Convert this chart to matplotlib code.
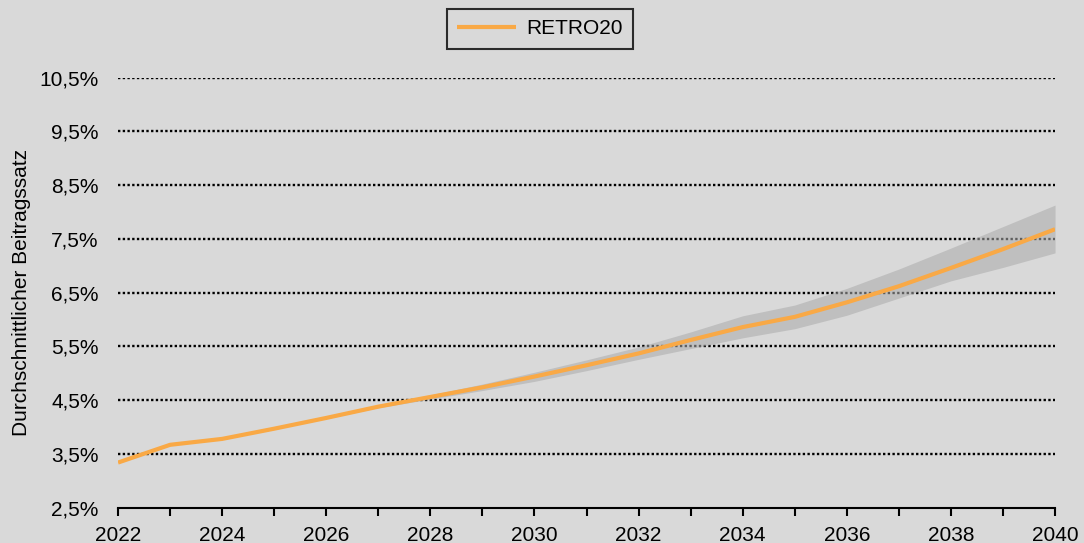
import numpy as np
import matplotlib.pyplot as plt
from matplotlib.ticker import FuncFormatter, MultipleLocator

# data
years = np.arange(2022, 2041)
retro20 = [3.34, 3.67, 3.78, 3.97, 4.17, 4.38, 4.56, 4.74, 4.94, 5.15,
           5.37, 5.62, 5.86, 6.05, 6.32, 6.62, 6.96, 7.31, 7.68]
band_hi = [3.34, 3.67, 3.78, 3.97, 4.18, 4.40, 4.60, 4.80, 5.02, 5.25,
           5.49, 5.77, 6.07, 6.27, 6.58, 6.94, 7.33, 7.73, 8.13]
band_lo = [3.34, 3.67, 3.78, 3.97, 4.16, 4.36, 4.52, 4.68, 4.85, 5.05,
           5.26, 5.46, 5.66, 5.83, 6.08, 6.40, 6.72, 6.97, 7.24]
yticks = [2.5, 3.5, 4.5, 5.5, 6.5, 7.5, 8.5, 9.5, 10.5]

plt.rcParams['font.family'] = ['Liberation Sans', 'DejaVu Sans']
bg = '#d9d9d9'

fig = plt.figure(figsize=(10.84, 5.43), dpi=100, facecolor=bg)
ax = fig.add_axes([0.1089, 0.065, 0.8644, 0.792], facecolor=bg)

# gridlines under the band
for v in yticks[1:]:
    ax.axhline(v, color='black', lw=1.7, ls=(0, (1, 1)), zorder=1)

ax.fill_between(years, band_lo, band_hi, color='#ababab', alpha=0.56,
                lw=0, zorder=2)
line, = ax.plot(years, retro20, color='#f9a946', lw=3, zorder=3,
                solid_capstyle='butt', label='RETRO20')

ax.set_xlim(2022, 2040)
ax.set_ylim(2.5, 10.5)
ax.xaxis.set_major_locator(MultipleLocator(2))
ax.xaxis.set_minor_locator(MultipleLocator(1))
ax.set_yticks(yticks)
ax.yaxis.set_major_formatter(FuncFormatter(
    lambda v, p: ('%.1f%%' % v).replace('.', ',')))

for s in ['top', 'right', 'left']:
    ax.spines[s].set_visible(False)
ax.spines['bottom'].set_linewidth(1.5)
ax.spines['bottom'].set_zorder(4)
ax.tick_params(axis='x', which='both', direction='out', length=6,
               width=1.5, labelsize=15, pad=7)
ax.tick_params(axis='y', length=0, labelsize=15, pad=14)

ax.set_ylabel('Durchschnittlicher Beitragssatz', fontsize=15, labelpad=6)

leg = fig.legend(handles=[line], loc='center', bbox_to_anchor=(0.498, 0.947),
                 fontsize=15, frameon=True, fancybox=False,
                 handlelength=2.8, borderpad=0.5, handletextpad=0.5,
                 borderaxespad=0)
leg.get_frame().set_edgecolor('black')
leg.get_frame().set_linewidth(1.5)
leg.get_frame().set_facecolor(bg)

fig.savefig('out.png', dpi=100, facecolor=bg)
